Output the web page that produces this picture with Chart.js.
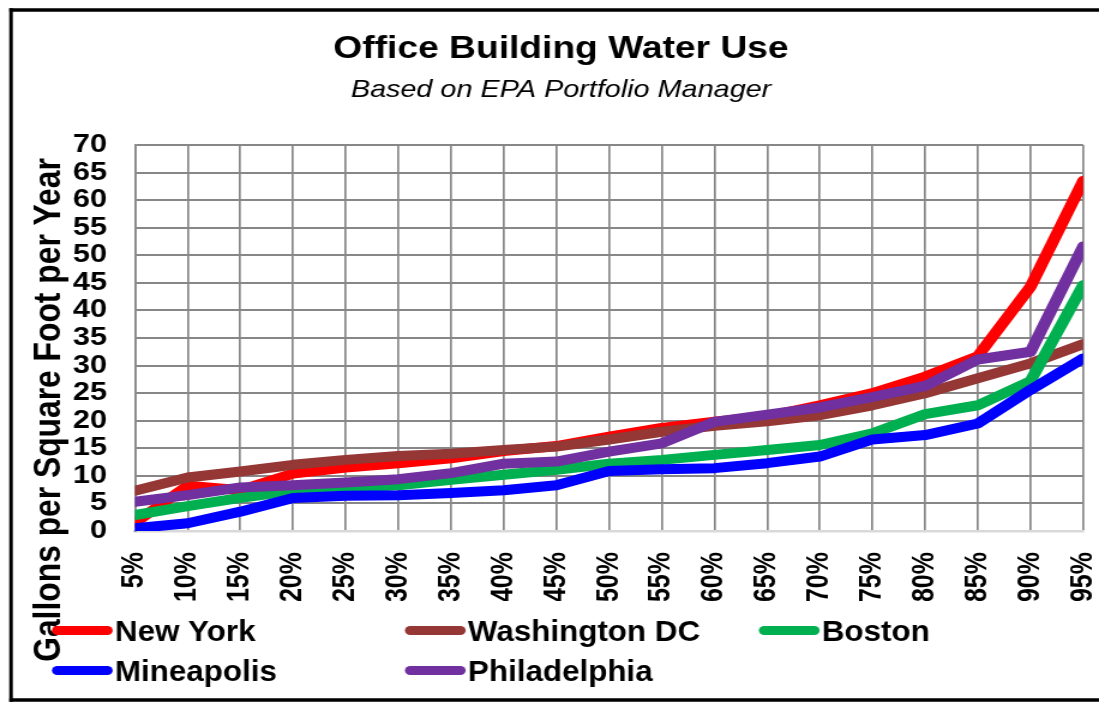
<!DOCTYPE html>
<html>
<head>
<meta charset="utf-8">
<script src="https://cdn.jsdelivr.net/npm/chart.js@4/dist/chart.umd.min.js"></script>
<style>
html,body{margin:0;padding:0;background:#fff;overflow:hidden}
#c{display:block}
</style>
</head>
<body>
<canvas id="c" width="916" height="702" style="width:1099px;height:702px"></canvas>
<script>
// ---- data ----
const categories = ['5%','10%','15%','20%','25%','30%','35%','40%','45%','50%','55%','60%','65%','70%','75%','80%','85%','90%','95%'];
const seriesNames = ['New York','Washington DC','Boston','Mineapolis','Philadelphia'];
const newYork      = [1.5, 8.2, 7.4, 10.4, 11.5, 12.3, 13.2, 14.5, 15.4, 17.1, 18.7, 19.8, 20.8, 22.8, 25.0, 28.0, 31.7, 44.3, 63.5];
const washingtonDC = [7.3, 9.7, 10.8, 12.0, 12.9, 13.6, 14.0, 14.7, 15.3, 16.6, 18.0, 19.1, 19.9, 21.0, 22.8, 25.0, 27.7, 30.4, 33.9];
const boston       = [2.9, 4.5, 6.0, 7.3, 7.7, 8.3, 9.3, 10.2, 11.1, 12.2, 12.9, 13.8, 14.7, 15.6, 17.7, 21.2, 22.8, 27.2, 44.6];
const mineapolis   = [0.5, 1.4, 3.5, 6.0, 6.4, 6.5, 6.9, 7.4, 8.3, 10.9, 11.2, 11.4, 12.3, 13.5, 16.6, 17.4, 19.5, 25.6, 31.3];
const philadelphia = [5.3, 6.5, 7.9, 8.3, 8.8, 9.4, 10.5, 12.2, 12.6, 14.4, 15.9, 19.8, 21.1, 22.4, 24.3, 26.3, 31.1, 32.5, 51.6];
const seriesColors = ['#FF0000','#953735','#00B050','#0000FF','#7030A0'];
const yMin = 0, yMax = 70, yStep = 5;
const titleText = 'Office Building Water Use';
const subtitleText = 'Based on EPA Portfolio Manager';
const yTitleText = 'Gallons per Square Foot per Year';

const FONT = '"Liberation Sans", Arial, Helvetica, sans-serif';
Chart.defaults.font.family = FONT;
Chart.defaults.color = '#000';

const seriesValues = [newYork, washingtonDC, boston, mineapolis, philadelphia];
const datasets = seriesValues.map((vals, i) => ({
  label: seriesNames[i],
  data: vals,
  borderColor: seriesColors[i],
  backgroundColor: seriesColors[i],
  borderWidth: 10,
  pointRadius: 0,
  pointHoverRadius: 0,
  tension: 0,
  fill: false,
  borderJoinStyle: 'round',
  borderCapStyle: 'round',
  order: seriesValues.length - 1 - i,
  clip: {left: 0, right: 0, top: 6, bottom: 0}
}));

const framePlugin = {
  id: 'frame',
  beforeDraw(chart) {
    const ctx = chart.ctx;
    ctx.save();
    ctx.fillStyle = '#fff';
    ctx.fillRect(0, 0, chart.width, chart.height);
    ctx.strokeStyle = '#000';
    ctx.lineWidth = 3.5;
    ctx.beginPath();
    ctx.moveTo(7.8, 10); ctx.lineTo(chart.width + 5, 10);
    ctx.moveTo(7.8, 700); ctx.lineTo(chart.width + 5, 700);
    ctx.stroke();
    ctx.lineWidth = 3;
    ctx.beginPath();
    ctx.moveTo(9.2, 8.3); ctx.lineTo(9.2, 701.7);
    ctx.stroke();
    ctx.restore();
  }
};

// y-axis title, placed like the original (centred lower than the plot)
const yTitlePlugin = {
  id: 'yTitle',
  afterDraw(chart) {
    const ctx = chart.ctx;
    const ca = chart.chartArea;
    ctx.save();
    ctx.translate(ca.left - 71.7, ca.bottom - 121);
    ctx.rotate(-Math.PI / 2);
    ctx.font = 'bold 31.8px ' + FONT;
    ctx.fillStyle = '#000';
    ctx.textAlign = 'center';
    ctx.textBaseline = 'middle';
    ctx.fillText(yTitleText, 0, 0);
    ctx.restore();
  }
};

const gridLegend = {
  id: 'gridLegend',
  afterDraw(chart) {
    const ctx = chart.ctx;
    const ca = chart.chartArea;
    const cols = [43.3, 337.5, 632.5];
    const rows = [ca.bottom + 99.5, ca.bottom + 139.5];
    ctx.save();
    chart.data.datasets.forEach((ds, i) => {
      const x = cols[i % 3];
      const y = rows[Math.floor(i / 3)];
      ctx.strokeStyle = ds.borderColor;
      ctx.lineWidth = 9;
      ctx.lineCap = 'round';
      ctx.beginPath();
      ctx.moveTo(x + 4.5, y);
      ctx.lineTo(x + 50.6 - 4.5, y);
      ctx.stroke();
      ctx.save();
      ctx.translate(x + 52.5, y + 10.7);
      ctx.scale(0.871, 1);
      ctx.font = 'bold 30px ' + FONT;
      ctx.fillStyle = '#000';
      ctx.textAlign = 'left';
      ctx.textBaseline = 'alphabetic';
      ctx.fillText(ds.label, 0, 0);
      ctx.restore();
    });
    ctx.restore();
  }
};

new Chart(document.getElementById('c'), {
  type: 'line',
  data: { labels: categories, datasets },
  plugins: [framePlugin, yTitlePlugin, gridLegend],
  options: {
    responsive: false,
    devicePixelRatio: 1,
    animation: false,
    events: [],
    layout: { padding: { left: 32.4, right: 13.2, top: 10, bottom: 101 } },
    plugins: {
      legend: { display: false },
      tooltip: { enabled: false },
      title: {
        display: true, text: titleText, color: '#000',
        font: { size: 31, weight: 'bold' },
        padding: { top: 20.4, bottom: 0 }
      },
      subtitle: {
        display: true, text: subtitleText, color: '#000',
        font: { size: 24, style: 'italic', weight: 'normal' },
        padding: { top: 8, bottom: 40.6 }
      }
    },
    scales: {
      x: {
        type: 'category',
        offset: false,
        grid: { color: '#878787', lineWidth: 1.7, drawTicks: false },
        border: { color: '#d9d9d9', width: 2.5 },
        ticks: {
          color: '#000', font: { size: 25, weight: 'bold' },
          maxRotation: 90, minRotation: 90, autoSkip: false, padding: 21
        },
        afterFit(scale) {
          scale.height = 70;
          scale.paddingLeft = 0;
          scale.paddingRight = 0;
        }
      },
      y: {
        min: yMin, max: yMax,
        grid: { color: '#878787', lineWidth: 2, drawTicks: false },
        border: { color: '#878787', width: 1.7 },
        ticks: {
          stepSize: yStep, color: '#000', font: { size: 25.5, weight: 'bold' },
          padding: 23.3, autoSkip: false
        },
        title: { display: false },
        afterFit(scale) {
          scale.width = 80.1;
          scale.paddingTop = 0;
          scale.paddingBottom = 0;
        }
      }
    }
  }
});
</script>
</body>
</html>
